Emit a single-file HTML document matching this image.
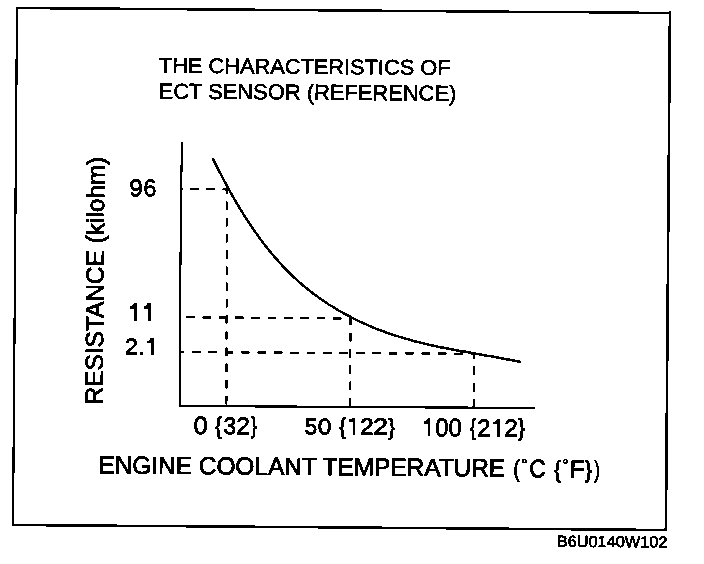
<!DOCTYPE html>
<html><head><meta charset="utf-8"><style>
html,body{margin:0;padding:0;background:#fff;width:704px;height:564px;overflow:hidden}
svg{display:block}
text{font-family:"Liberation Sans",sans-serif;fill:#000;stroke:#000;stroke-width:0.85px}
svg{will-change:transform}
</style></head><body>
<svg width="704" height="564" viewBox="0 0 704 564">
<defs><filter id="bin" x="0" y="0" width="704" height="564" filterUnits="userSpaceOnUse" color-interpolation-filters="sRGB"><feComponentTransfer><feFuncR type="discrete" tableValues="0 1"/><feFuncG type="discrete" tableValues="0 1"/><feFuncB type="discrete" tableValues="0 1"/></feComponentTransfer></filter></defs>
<g filter="url(#bin)"><rect x="0" y="0" width="704" height="564" fill="#fff"/>
<line x1="17" y1="8" x2="669.9" y2="12.9" stroke="#000" stroke-width="2.4" stroke-linecap="square"/>
<line x1="669.9" y1="12.9" x2="665.9" y2="530" stroke="#000" stroke-width="2.6" stroke-linecap="square"/>
<line x1="665.9" y1="530" x2="13" y2="524.9" stroke="#000" stroke-width="2.5" stroke-linecap="square"/>
<line x1="13" y1="524.9" x2="17" y2="8" stroke="#000" stroke-width="2.2" stroke-linecap="square"/>
<polyline points="181.9,142 181.2,189 180.5,258 180.1,317 180,406 535,408" fill="none" stroke="#000" stroke-width="2.1"/>
<polyline points="212.6,158.0 215.2,163.3 217.8,168.4 220.4,173.5 223.0,178.5 225.6,183.3 228.1,188.1 230.7,192.8 233.3,197.3 235.9,201.8 238.5,206.1 241.1,210.4 243.7,214.6 246.3,218.6 248.9,222.6 251.5,226.5 254.1,230.3 256.7,233.9 259.2,237.5 261.8,241.0 264.4,244.4 267.0,247.8 269.6,251.0 272.2,254.1 274.8,257.2 277.4,260.1 280.0,263.0 282.6,265.8 285.2,268.6 287.8,271.2 290.3,273.8 292.9,276.3 295.5,278.7 298.1,281.1 300.7,283.4 303.3,285.6 305.9,287.7 308.5,289.8 311.1,291.9 313.7,293.9 316.3,295.8 318.9,297.7 321.4,299.5 324.0,301.3 326.6,303.0 329.2,304.7 331.8,306.3 334.4,307.9 337.0,309.5 339.6,311.0 342.2,312.5 344.8,313.9 347.4,315.3 350.0,316.7 352.5,318.0 355.1,319.3 357.7,320.6 360.3,321.8 362.9,323.0 365.5,324.2 368.1,325.3 370.7,326.4 373.3,327.5 375.9,328.6 378.5,329.6 381.1,330.6 383.6,331.5 386.2,332.5 388.8,333.4 391.4,334.3 394.0,335.1 396.6,335.9 399.2,336.8 401.8,337.5 404.4,338.3 407.0,339.1 409.6,339.8 412.2,340.5 414.7,341.2 417.3,341.9 419.9,342.5 422.5,343.1 425.1,343.8 427.7,344.4 430.3,345.0 432.9,345.5 435.5,346.1 438.1,346.7 440.7,347.2 443.3,347.7 445.8,348.2 448.4,348.7 451.0,349.2 453.6,349.7 456.2,350.2 458.8,350.7 461.4,351.2 464.0,351.6 466.6,352.1 469.2,352.5 471.8,353.0 474.4,353.4 476.9,353.9 479.5,354.3 482.1,354.8 484.7,355.2 487.3,355.7 489.9,356.1 492.5,356.6 495.1,357.0 497.7,357.5 500.3,358.0 502.9,358.4 505.5,358.9 508.0,359.4 510.6,359.9 513.2,360.4 515.8,360.9 518.4,361.4 521.0,361.9" fill="none" stroke="#000" stroke-width="2.5" stroke-linecap="butt"/>
<line x1="181" y1="188.9" x2="228" y2="189.3" stroke="#000" stroke-width="2.2" stroke-dasharray="8.6 7.6" stroke-dashoffset="7.100000000000005"/>
<line x1="226.9" y1="189" x2="226.4" y2="406" stroke="#000" stroke-width="2.2" stroke-dasharray="8.6 7.6" stroke-dashoffset="-12.599999999999994"/>
<line x1="181" y1="317.2" x2="350" y2="318.4" stroke="#000" stroke-width="2.2" stroke-dasharray="8.7 7.63" stroke-dashoffset="-5"/>
<line x1="350.6" y1="318" x2="350" y2="407" stroke="#000" stroke-width="2.2" stroke-dasharray="8.6 7.6" stroke-dashoffset="1.300000000000022"/>
<line x1="180.5" y1="352.1" x2="474" y2="353.8" stroke="#000" stroke-width="2.2" stroke-dasharray="8.7 7.7" stroke-dashoffset="4.999999999999993"/>
<line x1="474" y1="353.8" x2="473.9" y2="407.5" stroke="#000" stroke-width="2.2" stroke-dasharray="8.6 7.6" stroke-dashoffset="3.399999999999988"/>
<text transform="translate(158.84,72.72) rotate(0.44) scale(1.0266,1)" font-size="21.23" style="stroke-width:0.55px">THE CHARACTERISTICS OF</text>
<text transform="translate(158.52,98.52) rotate(0.44) scale(1.0118,1)" font-size="21.67" style="stroke-width:0.55px">ECT SENSOR (REFERENCE)</text>
<text transform="translate(102.58,404.43) rotate(-89.56) scale(0.9822,1)" font-size="24.86">RESISTANCE (kilohm)</text>
<text transform="translate(129.18,196.23) rotate(0.44) scale(0.9888,1)" font-size="24.38">9</text>
<text transform="translate(143.38,196.23) rotate(0.44) scale(0.9356,1)" font-size="24.38">6</text>
<path d="M137,302.8 L137,320.8 L134.1,320.8 L134.1,308.8 L130.1,308.8 L130.1,305.8 L131.90,305.8 L134.1,302.8 Z" fill="#000"/>
<path d="M150.9,302.8 L150.9,320.8 L148,320.8 L148,308.8 L144,308.8 L144,305.8 L145.80,305.8 L148,302.8 Z" fill="#000"/>
<text transform="translate(125.08,354.38) rotate(0.44) scale(0.9981,1)" font-size="23.01">2</text>
<rect x="139.9" y="351.9" width="3.1" height="2.9" fill="#000"/>
<path d="M154,337.9 L154,354.8 L150.9,354.8 L150.9,343 L146.8,343 L146.8,340.7 L148.65,340.7 L150.9,337.9 Z" fill="#000"/>
<text transform="translate(193.41,434.02) rotate(0.44) scale(1.0085,1)" font-size="25.23">0</text>
<text transform="translate(215.06,433.65) rotate(0.44) scale(0.8771,1)" font-size="23.75">{</text>
<text transform="translate(223.38,434.03) rotate(0.44) scale(0.9391,1)" font-size="24.10">3</text>
<text transform="translate(236.31,434.27) rotate(0.44) scale(0.9935,1)" font-size="24.44">2</text>
<text transform="translate(251.12,433.41) rotate(0.44) scale(0.7388,1)" font-size="23.43">}</text>
<text transform="translate(304.62,434.15) rotate(0.44) scale(0.9897,1)" font-size="22.87">5</text>
<text transform="translate(317.84,434.15) rotate(0.44) scale(1.0915,1)" font-size="22.54">0</text>
<text transform="translate(339.28,434.36) rotate(0.44) scale(0.8543,1)" font-size="23.22">{</text>
<path d="M355.1,418 L355.1,434.8 L352.9,434.8 L352.9,422.2 L349,422.2 L349,419.5 L350.75,419.5 L352.9,418 Z" fill="#000"/>
<text transform="translate(360.10,434.57) rotate(0.44) scale(1.0454,1)" font-size="23.44">2</text>
<text transform="translate(372.99,434.57) rotate(0.44) scale(1.1392,1)" font-size="23.44">2</text>
<text transform="translate(388.27,434.82) rotate(0.44) scale(0.8735,1)" font-size="22.90">}</text>
<path d="M430.1,418 L430.1,435.9 L428,435.9 L428,423.9 L423.7,423.9 L423.7,421.5 L425.63,421.5 L428,418 Z" fill="#000"/>
<text transform="translate(435.27,436.22) rotate(0.44) scale(0.9317,1)" font-size="25.51">0</text>
<text transform="translate(448.47,436.22) rotate(0.44) scale(0.9317,1)" font-size="25.51">0</text>
<text transform="translate(470.02,435.34) rotate(0.44) scale(0.7503,1)" font-size="23.32">{</text>
<text transform="translate(477.11,436.47) rotate(0.44) scale(0.9820,1)" font-size="24.73">2</text>
<path d="M500,418.8 L500,436.7 L497.3,436.7 L497.3,423.9 L493.2,423.9 L493.2,421.9 L495.05,421.9 L497.3,418.8 Z" fill="#000"/>
<text transform="translate(504.31,436.57) rotate(0.44) scale(0.9763,1)" font-size="24.87">2</text>
<text transform="translate(518.06,435.58) rotate(0.44) scale(0.8587,1)" font-size="24.08">}</text>
<text transform="translate(98.47,473.47) rotate(0.44) scale(0.9815,1)" font-size="24.86">ENGINE COOLANT TEMPERATURE</text>
<text transform="translate(513.20,476.45) rotate(0.44) scale(0.8259,1)" font-size="23.75">(</text>
<circle cx="524.45" cy="460.95" r="1.75" fill="none" stroke="#000" stroke-width="1.5"/>
<text transform="translate(529.20,477.22) rotate(0.44) scale(0.8880,1)" font-size="25.37">C</text>
<text transform="translate(554.18,477.45) rotate(0.44) scale(0.8209,1)" font-size="23.75">{</text>
<circle cx="565.45" cy="461.35" r="1.8" fill="none" stroke="#000" stroke-width="1.5"/>
<text transform="translate(569.74,477.18) rotate(0.44) scale(0.9952,1)" font-size="24.22">F</text>
<text transform="translate(585.07,477.44) rotate(0.44) scale(0.8575,1)" font-size="23.32">}</text>
<text transform="translate(594.20,477.62) rotate(0.44) scale(0.6945,1)" font-size="23.86">)</text>
<text transform="translate(556.84,546.65) rotate(0.44) scale(1.0234,1)" font-size="15.94" style="stroke-width:0.7px">B6U0140W102</text>
</g>
</svg>
</body></html>
